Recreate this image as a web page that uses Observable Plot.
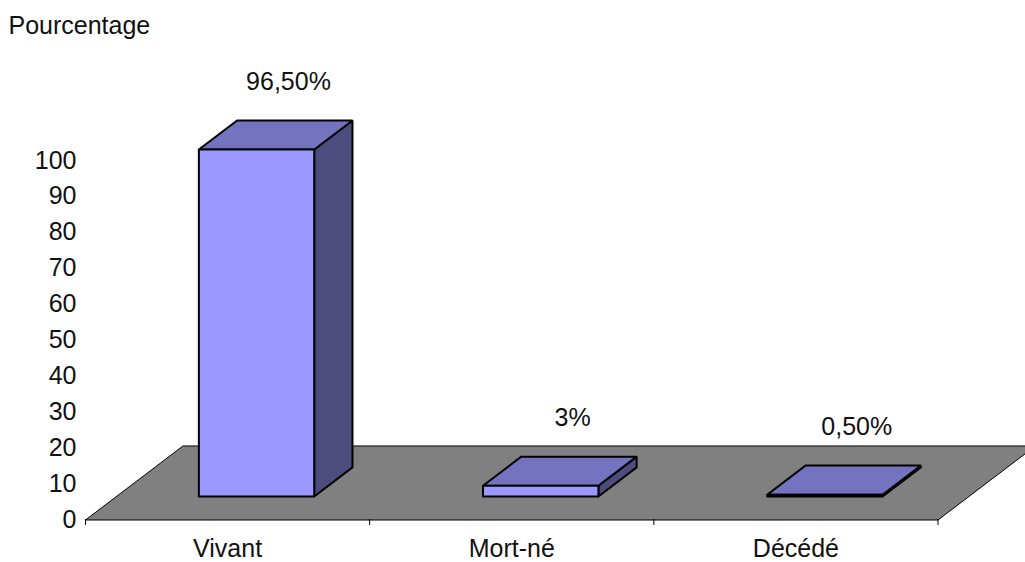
<!DOCTYPE html>
<html lang="fr">
<head>
<meta charset="utf-8">
<title>Pourcentage</title>
<script src="https://cdn.jsdelivr.net/npm/d3@7"></script>
<script src="https://cdn.jsdelivr.net/npm/@observablehq/plot@0.6"></script>
<style>
  html, body { margin: 0; padding: 0; background: #fff; }
  svg { display: block; }
</style>
</head>
<body>
<div id="chart"></div>
<script>
// Issue of the births, in percent
const categories = ["Vivant", "Mort-né", "Décédé"];
const values = [96.5, 3, 0.5];
const valueLabels = ["96,50%", "3%", "0,50%"];
const yTicks = [0, 10, 20, 30, 40, 50, 60, 70, 80, 90, 100];

// Oblique projection: how far one full unit of depth shifts a point, in axis units
const depthShiftX = 0.343;
const depthShiftY = 20.6;

// Box proportions within a category slot and within the floor depth
const barStart = 0.29;
const barWidth = 0.406;
const depthFront = 0.3176;
const depthBack = 0.71;
const labelDepth = 0.645;

const px = (p) => p[0] + p[2] * depthShiftX;
const py = (p) => p[1] + p[2] * depthShiftY;

// Floor of the chart: [position, height, depth]
const floor = [[0, 0, 0], [3, 0, 0], [3, 0, 1], [0, 0, 1], [0, 0, 0]];

// One closed outline per face of each box
const boxFace = (kind) => values.flatMap((v, i) => {
  const x0 = i + barStart, x1 = x0 + barWidth;
  const d0 = depthFront, d1 = depthBack;
  const corners = {
    front: [[x0, 0, d0], [x1, 0, d0], [x1, v, d0], [x0, v, d0], [x0, 0, d0]],
    side:  [[x1, 0, d0], [x1, 0, d1], [x1, v, d1], [x1, v, d0], [x1, 0, d0]],
    top:   [[x0, v, d0], [x1, v, d0], [x1, v, d1], [x0, v, d1], [x0, v, d0]]
  }[kind];
  return corners.map((c) => ({ bar: i, c }));
});

const face = (kind, fill) => Plot.line(boxFace(kind), {
  x: (d) => px(d.c),
  y: (d) => py(d.c),
  z: "bar",
  fill,
  stroke: "#000",
  strokeWidth: 2,
  strokeLinejoin: "miter"
});

const font = "'Liberation Sans', Arial, sans-serif";

const chart = Plot.plot({
  width: 1025,
  height: 562,
  marginLeft: 85,
  marginRight: 88,
  marginTop: 0,
  marginBottom: 43,
  style: { fontFamily: font, fontSize: "25px", background: "#fff", color: "#111" },
  x: { domain: [0, 3], range: [85, 937.5] },
  y: { domain: [0, 100], range: [519.5, 160] },
  marks: [
    Plot.line(floor, {
      x: px, y: py,
      fill: "#808080", stroke: "#000", strokeWidth: 1
    }),
    face("side", "#4c4c7f"),
    face("top", "#7373bf"),
    face("front", "#9999ff"),
    Plot.axisY({
      ticks: yTicks, tickSize: 0, tickPadding: 9, label: null,
      fontSize: 25, tickFormat: (d) => String(d)
    }),
    // Slot boundaries under the floor edge
    Plot.axisX({
      ticks: [0, 1, 2, 3], tickSize: 6, tickFormat: () => "", label: null,
      stroke: "#000"
    }),
    Plot.axisX({
      ticks: categories.map((_, i) => i + 0.5), tickSize: 0, tickPadding: 20,
      tickFormat: (d) => categories[Math.floor(d)], label: null, fontSize: 25
    }),
    Plot.text(values, {
      x: (v, i) => px([i + barStart + barWidth / 2, v, labelDepth]),
      y: (v) => py([0, v, labelDepth]),
      text: (v, i) => valueLabels[i],
      dy: -43,
      fontSize: 25,
      fill: "#111"
    }),
    Plot.text(["Pourcentage"], {
      frameAnchor: "top-left",
      lineAnchor: "middle",
      textAnchor: "start",
      dx: -77,
      dy: 25,
      fontSize: 25,
      fill: "#111"
    })
  ]
});

document.getElementById("chart").append(chart);
</script>
</body>
</html>
